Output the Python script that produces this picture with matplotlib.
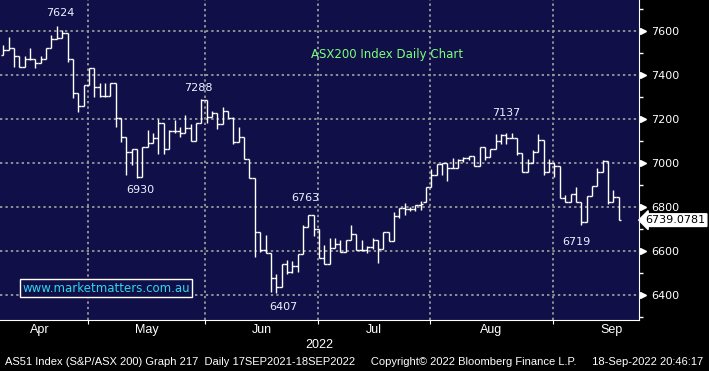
import numpy as np
import matplotlib.pyplot as plt
import matplotlib.transforms as mtransforms

''' Data read off the chart (ASX200 daily OHLC, early Apr - 16 Sep 2022) '''
opens = [7489, 7512, 7524, 7485, 7436, 7474, 7474, 7452, 7474, 7520,
         7561, 7565, 7588, 7470, 7315, 7258, 7353, 7429, 7346, 7303,
         7303, 7364, 7202, 7115, 7050, 7062, 6936, 7073, 7091, 7111,
         7179, 7061, 7144, 7144, 7133, 7156, 7100, 7182, 7285, 7209,
         7227, 7174, 7235, 7202, 7093, 7118, 7015, 6929, 6684, 6603,
         6588, 6474, 6434, 6540, 6505, 6531, 6584, 6709, 6763, 6697,
         6565, 6540, 6611, 6630, 6593, 6649, 6676, 6603, 6603, 6618,
         6649, 6606, 6683, 6646, 6758, 6792, 6788, 6788, 6808, 6823,
         6888, 6943, 6993, 6997, 6974, 6974, 7012, 7020, 7032, 6987,
         7070, 7027, 7061, 7100, 7126, 7112, 7111, 7046, 6959, 6997,
         7047, 7103, 6959, 6997, 6985, 6838, 6823, 6858, 6823, 6729,
         6849, 6894, 6959, 7009, 6823, 6843]
highs = [7535, 7573, 7524, 7485, 7485, 7520, 7474, 7485, 7520, 7580,
         7624, 7603, 7588, 7470, 7315, 7353, 7429, 7429, 7361, 7361,
         7364, 7364, 7202, 7115, 7062, 7062, 7073, 7149, 7133, 7197,
         7179, 7151, 7194, 7163, 7217, 7178, 7182, 7288, 7285, 7236,
         7227, 7252, 7235, 7206, 7161, 7118, 7015, 6929, 6684, 6671,
         6588, 6494, 6540, 6558, 6555, 6584, 6717, 6763, 6763, 6697,
         6626, 6656, 6656, 6651, 6649, 6717, 6676, 6649, 6621, 6656,
         6649, 6686, 6686, 6774, 6792, 6815, 6800, 6808, 6827, 6888,
         6970, 6993, 7000, 6997, 7020, 7017, 7025, 7032, 7032, 7073,
         7070, 7061, 7130, 7130, 7133, 7137, 7111, 7046, 7015, 7058,
         7131, 7103, 7015, 6997, 6985, 6853, 6858, 6888, 6823, 6849,
         6894, 6974, 7012, 7009, 6876, 6843]
lows = [7489, 7512, 7436, 7436, 7436, 7468, 7429, 7452, 7474, 7520,
        7561, 7565, 7459, 7293, 7232, 7258, 7353, 7300, 7300, 7300,
        7303, 7164, 7096, 6944, 6990, 6930, 6936, 7073, 7088, 7040,
        7040, 7061, 7133, 7118, 7133, 7100, 7100, 7182, 7180, 7206,
        7152, 7174, 7202, 7085, 7093, 7015, 6929, 6570, 6593, 6588,
        6414, 6407, 6434, 6494, 6497, 6505, 6584, 6709, 6668, 6565,
        6540, 6540, 6611, 6593, 6593, 6649, 6603, 6600, 6588, 6610,
        6543, 6606, 6646, 6646, 6747, 6762, 6782, 6782, 6785, 6823,
        6888, 6943, 6943, 6918, 6974, 6974, 7005, 7012, 6987, 6987,
        7012, 7027, 7061, 7083, 7083, 7111, 7035, 6959, 6959, 6997,
        7047, 6944, 6959, 6937, 6838, 6823, 6823, 6823, 6719, 6729,
        6849, 6894, 6959, 6812, 6823, 6739]
closes = [7512, 7524, 7485, 7436, 7474, 7474, 7452, 7474, 7520, 7561,
          7565, 7588, 7470, 7315, 7258, 7353, 7429, 7346, 7303, 7303,
          7364, 7202, 7115, 7050, 7062, 6936, 7073, 7091, 7111, 7179,
          7061, 7144, 7144, 7133, 7156, 7100, 7182, 7285, 7209, 7227,
          7174, 7235, 7202, 7093, 7118, 7015, 6929, 6684, 6603, 6588,
          6474, 6434, 6540, 6505, 6531, 6584, 6709, 6762, 6697, 6565,
          6540, 6611, 6630, 6593, 6649, 6676, 6603, 6603, 6618, 6649,
          6606, 6683, 6646, 6758, 6792, 6788, 6788, 6808, 6812, 6888,
          6943, 6993, 6997, 6974, 6974, 7012, 7020, 7032, 6987, 7070,
          7027, 7061, 7100, 7126, 7112, 7111, 7046, 6959, 6997, 7047,
          7103, 6959, 6997, 6985, 6838, 6823, 6858, 6823, 6729, 6849,
          6894, 6959, 7009, 6823, 6843, 6739.0781]

# month names and number of ASX trading days in each (Apr starts off-chart)
months = ['Apr', 'May', 'Jun', 'Jul', 'Aug', 'Sep']
month_days = [18, 22, 21, 21, 23, 22]
first_bar_in_may = 16

# labelled turning points: (text, bar index, 'high'/'low', x offset px, y offset px)
callouts = [('7624', 10, 'high', 3, 13),
            ('7288', 37, 'high', -3, 11),
            ('6930', 25, 'low', 3, -12),
            ('6407', 51, 'low', 7, -14),
            ('6763', 57, 'high', -3, 17),
            ('7137', 95, 'high', -5, 20),
            ('6719', 108, 'low', -5, -17)]

last_price = '6739.0781'
footer = ('AS51 Index (S&P/ASX 200) Graph 217  Daily 17SEP2021-18SEP2022     '
          'Copyright\u00a9 2022 Bloomberg Finance L.P.     18-Sep-2022 20:46:17')

''' Colours and fonts '''
NAVY = '#100f48'
GRID = '#9a9a9a'
NARROW = ['Liberation Sans', 'DejaVu Sans']

''' Plot '''
fig = plt.figure(figsize=(7.09, 3.71), dpi=100, facecolor='black')
ax = fig.add_axes([0, 51 / 371, 639 / 709, 320 / 371])
ax.set_facecolor(NAVY)

x = np.arange(len(closes))
ax.vlines(x, lows, highs, color='white', lw=1.0, zorder=3)
ax.hlines(opens, x - 0.5, x, color='white', lw=1.0, zorder=3)
ax.hlines(closes, x, x + 0.5, color='white', lw=1.0, zorder=3)

ax.set_xlim(-0.62, 118.8)
ax.set_ylim(6285, 7740)

# month boundaries / labels
starts = np.cumsum([first_bar_in_may - month_days[0]] + month_days) - 0.25
for s in starts[1:-1]:
    ax.axvline(s, color=GRID, lw=1.3, ls=(0, (1.3, 1.7)), zorder=1)
ax.set_xticks(starts[1:-1])
ax.set_xticklabels([])
ax.set_xticks((starts[:-1] + starts[1:]) / 2, minor=True)
ax.set_xticklabels(months, minor=True, family=NARROW, fontsize=9, color='white')
ax.tick_params(axis='x', which='major', length=3, color='white', direction='out')
ax.tick_params(axis='x', which='minor', length=0, pad=3)

# price grid, right-hand axis
yt = np.arange(6400, 7601, 200)
for v in yt:
    ax.axhline(v, color=GRID, lw=1.3, ls=(0, (1.3, 1.7)), zorder=1)
ax.yaxis.tick_right()
ax.set_yticks(yt)
ax.set_yticks(np.arange(6300, 7701, 200), minor=True)
ax.tick_params(axis='y', which='major', length=0, pad=9, labelsize=8, labelcolor='white')
ax.tick_params(axis='y', which='minor', length=3, color='white', width=1)
trans = mtransforms.blended_transform_factory(ax.transAxes, ax.transData)
ax.plot(np.full(len(yt), 1.006), yt, ls='none', marker='>', ms=4.5, color='white',
        transform=trans, clip_on=False)

for side in ['top', 'left']:
    ax.spines[side].set_visible(False)
ax.spines['right'].set_color('white')
ax.spines['bottom'].set_color('white')

# callouts
for txt, i, kind, dx, dy in callouts:
    yv = highs[i] if kind == 'high' else lows[i]
    ax.annotate(txt, (i, yv), xytext=(dx, dy), textcoords='offset pixels',
                ha='center', va='center', color='#eef2ff', fontsize=8)

ax.text(0.605, 0.83, 'ASX200 Index Daily Chart', transform=ax.transAxes,
        ha='center', va='center', color='#7dff7d', fontsize=8.5)
ax.text(0.166, 0.1, 'www.marketmatters.com.au', transform=ax.transAxes,
        ha='center', va='center', color='#2fd6f0', fontsize=8.5,
        bbox=dict(boxstyle='square,pad=0.2', fc=NAVY, ec='white', lw=1))

# last price tag
ax.text(1.01, closes[-1], last_price, transform=trans, ha='left', va='center',
        color='black', fontsize=8, zorder=5, clip_on=False,
        bbox=dict(boxstyle='larrow,pad=0.12', fc='white', ec='white'))

fig.text(0.45, 1 - 345 / 371, '2022', ha='center', va='center', color='white',
         family=NARROW, fontsize=9)
fig.text(0.499, 1 - 362 / 371, footer, ha='center', va='center', color='white',
         family=NARROW, fontsize=8.05)

fig.savefig('out.png', dpi=100, facecolor='black')
